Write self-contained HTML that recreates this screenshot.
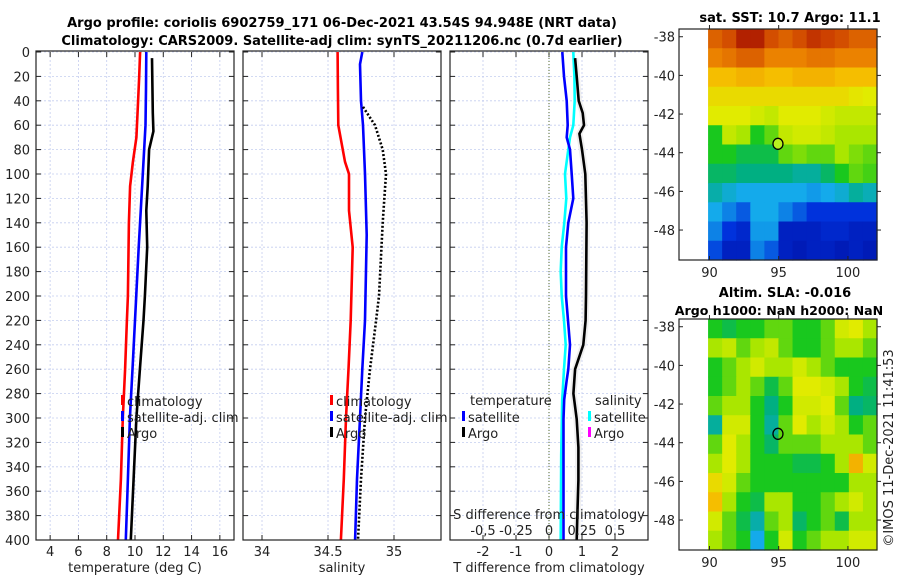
<!DOCTYPE html>
<html><head><meta charset="utf-8">
<style>
body{margin:0;background:#fff;}
svg{display:block;font-family:"DejaVu Sans","Liberation Sans",sans-serif;}
</style></head>
<body>
<svg id="fig" width="900" height="580" viewBox="0 0 900 580">
<text x="342" y="27" font-size="13" font-weight="bold" text-anchor="middle">Argo profile: coriolis 6902759_171 06-Dec-2021 43.54S 94.948E (NRT data)</text>
<text x="342" y="45" font-size="13" font-weight="bold" text-anchor="middle">Climatology: CARS2009. Satellite-adj clim: synTS_20211206.nc (0.7d earlier)</text>
<text x="790" y="22" font-size="13" font-weight="bold" text-anchor="middle">sat. SST: 10.7 Argo: 11.1</text>
<text x="785" y="297" font-size="13" font-weight="bold" text-anchor="middle">Altim. SLA: -0.016</text>
<text x="779" y="315" font-size="12.6" font-weight="bold" text-anchor="middle">Argo h1000: NaN h2000: NaN</text>
<text transform="translate(893,448) rotate(-90)" font-size="13" text-anchor="middle" fill="#222">©IMOS 11-Dec-2021 11:41:53</text>
<g id="g"></g>
</svg>
<script>
// ---- data ----
const depthTicks=[0,20,40,60,80,100,120,140,160,180,200,220,240,260,280,300,320,340,360,380,400];
const tTicks=[4,6,8,10,12,14,16];
const sTicks=[34,34.5,35];
const dtTicks=[-2,-1,0,1,2];
const dsTicks=[-0.5,-0.25,0,0.25,0.5];
const dsTickLabels=["-0,5","-0.25","0","0.25","0.5"];
const latTicks=[-38,-40,-42,-44,-46,-48];
const lonTicks=[90,95,100];

const tClimDepth=[0,20,40,70,90,110,140,200,220,260,300,350,400];
const tClimVal=[10.36,10.3,10.22,10.1,9.85,9.65,9.57,9.5,9.43,9.3,9.14,9.0,8.8];
const tSatDepth=[0,30,60,100,160,220,260,300,350,400];
const tSatVal=[10.8,10.78,10.74,10.55,10.26,10.0,9.82,9.64,9.5,9.35];
const tArgoDepth=[5,50,65,80,110,130,160,200,220,260,300,350,400];
const tArgoVal=[11.2,11.26,11.3,11.0,10.9,10.8,10.86,10.7,10.6,10.35,10.1,9.9,9.7];

const sClimDepth=[0,30,60,90,100,130,160,220,260,300,350,400];
const sClimVal=[34.573,34.575,34.578,34.629,34.659,34.659,34.687,34.672,34.655,34.636,34.62,34.598];
const sSatDepth=[0,10,40,60,100,150,220,260,300,350,400];
const sSatVal=[34.76,34.742,34.75,34.765,34.78,34.793,34.78,34.76,34.742,34.72,34.705];
const sArgoDepth=[45,60,80,100,140,200,220,260,300,350,400];
const sArgoVal=[34.765,34.856,34.914,34.939,34.914,34.886,34.864,34.818,34.78,34.75,34.727];

const dTSatDepth=[0,20,40,60,70,80,100,120,140,160,200,240,260,269,285,301,351,400];
const dTSatVal=[0.404,0.455,0.535,0.566,0.535,0.636,0.687,0.737,0.586,0.515,0.515,0.636,0.586,0.535,0.46,0.44,0.44,0.44];
const dSSatDepth=[0,20,40,60,70,80,100,120,140,160,180,200,220,240,260,285,330,400];
const dSSatVal=[0.737,0.77,0.78,0.737,0.636,0.586,0.485,0.525,0.465,0.384,0.354,0.384,0.455,0.505,0.455,0.40,0.37,0.354];
const dTArgoDepth=[5,20,40,50,60,67,80,100,140,200,220,240,260,280,301,324,351,378,400];
const dTArgoVal=[0.79,0.84,0.9,1.02,1.06,0.92,1.0,1.1,1.14,1.12,1.11,1.04,0.79,0.74,0.84,0.89,0.89,0.86,0.84];

const sstGrid=[
[0.85,0.88,0.95,0.95,0.88,0.85,0.88,0.92,0.9,0.88,0.85,0.85],
[0.8,0.82,0.85,0.85,0.8,0.8,0.8,0.82,0.82,0.8,0.8,0.8],
[0.7,0.7,0.72,0.72,0.7,0.7,0.72,0.72,0.72,0.7,0.7,0.7],
[0.65,0.65,0.65,0.65,0.65,0.65,0.65,0.65,0.65,0.65,0.63,0.62],
[0.62,0.62,0.62,0.6,0.58,0.62,0.62,0.62,0.6,0.58,0.58,0.58],
[0.45,0.58,0.55,0.45,0.5,0.58,0.6,0.6,0.58,0.55,0.55,0.55],
[0.45,0.45,0.42,0.42,0.42,0.5,0.52,0.5,0.5,0.55,0.52,0.5],
[0.4,0.4,0.38,0.38,0.38,0.38,0.36,0.36,0.4,0.45,0.5,0.48],
[0.35,0.32,0.3,0.3,0.3,0.3,0.3,0.28,0.3,0.32,0.36,0.34],
[0.3,0.25,0.2,0.3,0.3,0.25,0.2,0.15,0.15,0.15,0.15,0.15],
[0.25,0.15,0.12,0.28,0.28,0.1,0.1,0.1,0.12,0.12,0.1,0.1],
[0.18,0.1,0.1,0.25,0.2,0.1,0.08,0.1,0.1,0.08,0.1,0.08]];
const slaGrid=[
[0.45,0.42,0.45,0.45,0.5,0.5,0.45,0.45,0.5,0.6,0.62,0.55],
[0.55,0.58,0.5,0.55,0.58,0.5,0.45,0.45,0.5,0.55,0.55,0.5],
[0.45,0.5,0.55,0.6,0.55,0.55,0.6,0.55,0.5,0.45,0.45,0.45],
[0.45,0.5,0.55,0.5,0.42,0.5,0.62,0.62,0.6,0.55,0.45,0.42],
[0.5,0.55,0.55,0.45,0.38,0.45,0.6,0.6,0.62,0.5,0.38,0.4],
[0.36,0.6,0.6,0.45,0.36,0.5,0.62,0.55,0.6,0.55,0.45,0.5],
[0.5,0.62,0.55,0.45,0.4,0.5,0.5,0.5,0.55,0.55,0.55,0.5],
[0.55,0.62,0.55,0.45,0.45,0.45,0.42,0.42,0.45,0.55,0.72,0.6],
[0.65,0.6,0.5,0.45,0.45,0.45,0.45,0.45,0.45,0.45,0.55,0.55],
[0.7,0.55,0.45,0.42,0.55,0.55,0.45,0.45,0.5,0.55,0.6,0.55],
[0.6,0.5,0.42,0.35,0.5,0.55,0.4,0.45,0.5,0.42,0.55,0.55],
[0.55,0.5,0.45,0.3,0.45,0.6,0.45,0.5,0.55,0.55,0.6,0.6]];
const argoLon=94.948, argoLat=-43.54;

// ---- drawing ----
const NS="http://www.w3.org/2000/svg";
const G=document.getElementById('g');
function mk(t,a,p){const e=document.createElementNS(NS,t);for(const k in a)e.setAttribute(k,a[k]);(p||G).appendChild(e);return e;}
const top0=52,bot0=540;
const yD=d=>top0+(bot0-top0)*d/400;
const panels=[
 {x0:36,x1:234,lo:3,hi:17},
 {x0:243,x1:441,lo:33.856,hi:35.356},
 {x0:450,x1:648,lo:-3,hi:3}];
function xs(p,v){return p.x0+(p.x1-p.x0)*(v-p.lo)/(p.hi-p.lo);}
function grid(p,ticks){
  depthTicks.forEach(d=>{const l=mk('line',{x1:p.x0,x2:p.x1,y1:yD(d),y2:yD(d),stroke:'#c4cdef','stroke-dasharray':'2,2','stroke-width':0.8});
   
   mk('line',{x1:p.x0,x2:p.x0+5,y1:yD(d),y2:yD(d),stroke:'#222'});mk('line',{x1:p.x1-5,x2:p.x1,y1:yD(d),y2:yD(d),stroke:'#222'});});
  ticks.forEach(v=>{const x=xs(p,v);const l=mk('line',{x1:x,x2:x,y1:top0,y2:bot0,stroke:'#c4cdef','stroke-dasharray':'2,2','stroke-width':0.8});
   
   mk('line',{x1:x,x2:x,y1:bot0,y2:bot0-5,stroke:'#222'});mk('line',{x1:x,x2:x,y1:top0,y2:top0+5,stroke:'#222'});});
}
function frame(p,name){const r=mk('rect',{x:p.x0,y:top0-1,width:p.x1-p.x0,height:bot0-top0+1,fill:'none',stroke:'#222','stroke-width':1.2});
 }
function line(p,ds,vs,col,name,extra){
 const pts=ds.map((d,i)=>xs(p,vs[i]).toFixed(1)+','+yD(d).toFixed(1)).join(' ');
 const a={points:pts,fill:'none',stroke:col,'stroke-width':2.6,'stroke-linejoin':'round'};
 if(extra)Object.assign(a,extra);
 const e=mk('polyline',a);return e;}
function txt(x,y,s,opt){const a=Object.assign({x:x,y:y,'font-size':13,fill:'#222'},opt||{});const e=mk('text',a);e.textContent=s;return e;}

// panel 1
let p=panels[0];grid(p,tTicks);
line(p,tClimDepth,tClimVal,'#ff0000','temp-climatology-line');
line(p,tSatDepth,tSatVal,'#0000ff','temp-satellite-line');
line(p,tArgoDepth,tArgoVal,'#000','temp-argo-line');
frame(p,'temperature-panel');
depthTicks.forEach(d=>{const t=txt(30,yD(d)+5,String(d),{'text-anchor':'end'});});
tTicks.forEach(v=>{const t=txt(xs(p,v),556,String(v),{'text-anchor':'middle'});});
txt(135,572,'temperature (deg C)',{'text-anchor':'middle'});
// panel 2
p=panels[1];grid(p,sTicks);
line(p,sClimDepth,sClimVal,'#ff0000','sal-climatology-line');
line(p,sSatDepth,sSatVal,'#0000ff','sal-satellite-line');
line(p,sArgoDepth,sArgoVal,'#000','sal-argo-line',{'stroke-dasharray':'2,2'});
frame(p,'salinity-panel');
sTicks.forEach(v=>{const t=txt(xs(p,v),556,String(v),{'text-anchor':'middle'});});
txt(342,572,'salinity',{'text-anchor':'middle'});
// panel 3
p=panels[2];grid(p,dtTicks);
mk('line',{x1:xs(p,0),x2:xs(p,0),y1:top0,y2:bot0,stroke:'#556b2f','stroke-dasharray':'1,2','stroke-width':1});
const band=dTArgoDepth.map((d,i)=>xs(p,dTArgoVal[i]-0.1)+','+yD(d)).concat(dTArgoDepth.slice().reverse().map((d,i)=>{const j=dTArgoDepth.length-1-i;return xs(p,dTArgoVal[j]+0.1)+','+yD(d);})).join(' ');
mk('polygon',{points:band,fill:'#efefef'});
line(p,dSSatDepth,dSSatVal,'#00ffff','sal-diff-satellite-line');
line(p,dTSatDepth,dTSatVal,'#0000ff','temp-diff-satellite-line');
line(p,dTArgoDepth,dTArgoVal,'#000','temp-diff-argo-line');
frame(p,'difference-panel');
dtTicks.forEach(v=>{const t=txt(xs(p,v),556,String(v),{'text-anchor':'middle'});});
txt(549,572,'T difference from climatology',{'text-anchor':'middle'});
txt(549,519,'S difference from climatology',{'text-anchor':'middle'});
dsTicks.forEach((v,i)=>{const t=txt(xs(p,v*4),535,dsTickLabels[i],{'text-anchor':'middle'});});

// legends
function legItem(x,y,col,label,name){const r=mk('rect',{x:x,y:y-11,width:3,height:10,fill:col});
 const t=txt(x+6,y,label);}
legItem(121,406,'#ff0000','climatology','legend-climatology');
legItem(121,422,'#0000ff','satellite-adj. clim','legend-satellite');
legItem(121,438,'#000','Argo','legend-argo');
legItem(330,406,'#ff0000','climatology','legend-climatology-2');
legItem(330,422,'#0000ff','satellite-adj. clim','legend-satellite-2');
legItem(330,438,'#000','Argo','legend-argo-2');
txt(470,405,'temperature');
legItem(462,422,'#0000ff','satellite','legend-t-satellite');
legItem(462,438,'#000','Argo','legend-t-argo');
txt(595,405,'salinity');
legItem(588,422,'#00ffff','satellite','legend-s-satellite');
legItem(588,438,'#ff00ff','Argo','legend-s-argo');

// maps
const cmapStops=[[0,[0,0,140]],[0.15,[0,50,220]],[0.3,[20,170,235]],[0.38,[0,175,130]],[0.45,[25,200,30]],[0.55,[170,230,0]],[0.62,[225,235,0]],[0.7,[245,190,0]],[0.8,[235,130,0]],[0.9,[205,65,0]],[1,[150,0,0]]];
function cmap(v){v=Math.max(0,Math.min(1,v));for(let i=1;i<cmapStops.length;i++){const a=cmapStops[i-1],b=cmapStops[i];if(v<=b[0]){const t=(v-a[0])/(b[0]-a[0]);
 return 'rgb('+a[1].map((c,k)=>Math.round(c+(b[1][k]-c)*t)).join(',')+')';}}return 'rgb(150,0,0)';}
function drawMap(grid,y0,y1,name,circFill){
 const X0=679,X1=877,lonLo=87.8,lonHi=102.1,latTop=-37.6,latBot=-49.55;
 const lx=l=>X0+(X1-X0)*(l-lonLo)/(lonHi-lonLo);
 const ly=l=>y0+(y1-y0)*(latTop-l)/(latTop-latBot);
 const rows=grid.length,cols=grid[0].length;
 const gx0=lx(89.9),gx1=X1,cw=(gx1-gx0)/cols,ch=(y1-y0)/rows;
 for(let r=0;r<rows;r++)for(let c=0;c<cols;c++){
  const e=mk('rect',{x:gx0+c*cw,y:y0+r*ch,width:cw+0.6,height:ch+0.6,fill:cmap(grid[r][c])});
  
  }
 const fr=mk('rect',{x:X0,y:y0,width:X1-X0,height:y1-y0,fill:'none',stroke:'#222','stroke-width':1.2});
 
 latTicks.forEach(l=>{const y=ly(l);mk('line',{x1:X0,x2:X0+4,y1:y,y2:y,stroke:'#222'});mk('line',{x1:X1,x2:X1+4,y1:y,y2:y,stroke:'#222'});
  const t=txt(675,y+5,String(l),{'text-anchor':'end'});});
 lonTicks.forEach(l=>{const x=lx(l);mk('line',{x1:x,x2:x,y1:y1,y2:y1-4,stroke:'#222'});mk('line',{x1:x,x2:x,y1:y0,y2:y0-4,stroke:'#222'});
  const t=txt(x,y1+17,String(l),{'text-anchor':'middle'});});
 const c=mk('ellipse',{cx:lx(argoLon),cy:ly(argoLat),rx:5,ry:5.5,fill:circFill,stroke:'#000','stroke-width':1.3});
 
}
drawMap(sstGrid,29,260,'sst-map','#b8f020');
drawMap(slaGrid,319,550,'sla-map','none');
</script>
</body></html>
